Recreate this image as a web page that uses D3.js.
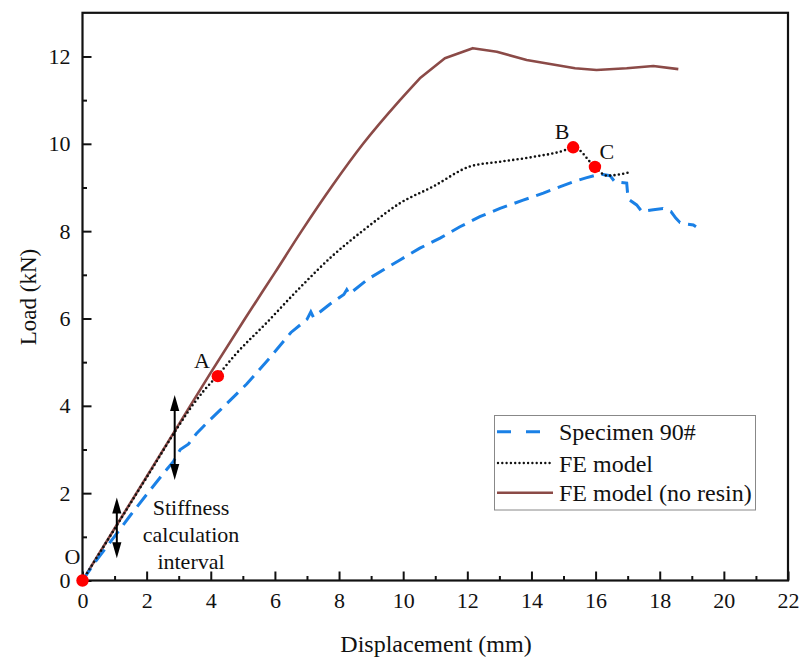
<!DOCTYPE html>
<html><head><meta charset="utf-8">
<script src="https://cdn.jsdelivr.net/npm/d3@7/dist/d3.min.js"></script>
<style>body{margin:0;background:#fff}svg{display:block}svg text{font-family:'Liberation Serif','Times New Roman',Tinos,'DejaVu Serif','Noto Serif',serif !important;fill:#111}</style>
</head><body><svg id="c" width="801" height="662"></svg>
<script>
// ---- data ----
const xTicks = [0,2,4,6,8,10,12,14,16,18,20,22];
const yTicks = [0,2,4,6,8,10,12];
const xMinor = [1,3,5,7,9,11,13,15,17,19,21];
const yMinor = [1,3,5,7,9,11];

const specimenX = [0,0.44,0.96,1.5,2.0,2.5,2.83,3.05,3.3,3.55,3.92,4.29,5.12,5.9,6.5,7.0,7.12,7.2,7.7,8.15,8.24,8.32,8.9,9.4,9.9,10.52,11.15,11.77,12.39,13.02,13.74,14.37,14.9,15.3,15.7,16.14,16.45,16.6,16.97,17.0,17.05,17.28,17.44,17.8,18.1,18.35,18.5,18.63,18.84,19.05,19.13];
const specimenY = [0,0.47,0.97,1.5,1.97,2.43,2.72,3.0,3.12,3.36,3.64,3.9,4.5,5.15,5.68,5.98,6.15,6.03,6.32,6.55,6.66,6.56,6.9,7.12,7.34,7.61,7.84,8.1,8.33,8.52,8.71,8.87,9.02,9.13,9.22,9.31,9.27,9.13,9.1,8.85,8.72,8.6,8.45,8.49,8.52,8.45,8.3,8.2,8.16,8.14,8.1];

const feX = [0,1,2,3,3.4,3.8,4.22,4.8,5.74,6.8,7.82,8.9,9.9,10.93,12.08,13.02,14.05,15.1,15.3,15.98,16.35,17.02];
const feY = [0,1.18,2.36,3.54,3.98,4.36,4.7,5.2,5.9,6.72,7.45,8.1,8.64,9.02,9.48,9.59,9.7,9.87,9.93,9.47,9.27,9.34];

const noResinX = [0,1,2,3,4,5.07,6,6.83,7.8,8.75,9.9,10.52,11.3,12.17,12.92,13.85,15.36,16.03,16.97,17.8,18.58];
const noResinY = [0,1.19,2.38,3.57,4.76,6.0,7.05,8.0,9.05,10.0,11.0,11.5,11.96,12.19,12.11,11.92,11.73,11.69,11.73,11.78,11.71];

const pointNames = ["O","A","B","C"];
const pointX = [0,4.22,15.3,15.98];
const pointY = [0,4.68,9.92,9.47];

const arrowX = [1.07,2.875];
const arrowTop = [1.9,4.25];
const arrowBottom = [0.51,2.3];

const legendLabels = ["Specimen 90#","FE model","FE model (no resin)"];
const noteLines = ["Stiffness","calculation","interval"];

// ---- chart ----
const FONT = "'Liberation Serif','Times New Roman',Tinos,'DejaVu Serif','Noto Serif',serif";
const svg = d3.select("#c").attr("font-family",FONT);
const x = d3.scaleLinear().domain([0,22]).range([82.5,788]);
const y = d3.scaleLinear().domain([0,13]).range([580.5,12.8]);

const g = svg.append("g");
// minor ticks
g.append("g").attr("transform",`translate(0,${y(0)})`)
 .call(d3.axisBottom(x).tickValues(xMinor).tickSize(-4.5).tickFormat(""))
 .call(s=>{s.select(".domain").remove();s.selectAll("line").attr("stroke","#111").attr("stroke-width",2);});
g.append("g").attr("transform",`translate(${x(0)},0)`)
 .call(d3.axisLeft(y).tickValues(yMinor).tickSize(-4.5).tickFormat(""))
 .call(s=>{s.select(".domain").remove();s.selectAll("line").attr("stroke","#111").attr("stroke-width",2);});
// major
g.append("g").attr("transform",`translate(0,${y(0)})`)
 .call(d3.axisBottom(x).tickValues(xTicks).tickSize(-9).tickPadding(12).tickFormat(d3.format("d")))
 .call(s=>{s.attr("font-family",FONT);s.select(".domain").remove();s.selectAll("line").attr("stroke","#111").attr("stroke-width",2);
   s.selectAll("text").attr("font-size",22).attr("fill","#111");});
g.append("g").attr("transform",`translate(${x(0)},0)`)
 .call(d3.axisLeft(y).tickValues(yTicks).tickSize(-9).tickPadding(12).tickFormat(d3.format("d")))
 .call(s=>{s.attr("font-family",FONT);s.select(".domain").remove();s.selectAll("line").attr("stroke","#111").attr("stroke-width",2);
   s.selectAll("text").attr("font-size",22).attr("fill","#111");});
// frame
g.append("rect").attr("x",x(0)).attr("y",y(13)).attr("width",x(22)-x(0)).attr("height",y(0)-y(13))
 .attr("fill","none").attr("stroke","#111").attr("stroke-width",2.2);

// axis titles
svg.append("text").attr("x",436).attr("y",652).attr("text-anchor","middle").attr("font-size",24).text("Displacement (mm)");
svg.append("text").attr("transform","translate(36,297) rotate(-90)").attr("text-anchor","middle").attr("font-size",23).text("Load (kN)");

const zip = (a,b)=>a.map((v,i)=>[v,b[i]]);
const smooth = d3.line().x(d=>x(d[0])).y(d=>y(d[1])).curve(d3.curveMonotoneX);
const straight = d3.line().x(d=>x(d[0])).y(d=>y(d[1]));
const BROWN="#8b4a47", BLUE="#1a80e6";

// brown: smooth rise, straight segments around the peak
const brownPts = zip(noResinX,noResinY);
const split = noResinX.indexOf(10.52);
g.append("path").attr("d", smooth(brownPts.slice(0,split+1)) + straight(brownPts.slice(split)).replace(/^M/,"L"))
 .attr("fill","none").attr("stroke",BROWN).attr("stroke-width",2.6).attr("stroke-linejoin","round");
g.append("path").datum(zip(specimenX,specimenY)).attr("d",straight).attr("fill","none")
 .attr("stroke",BLUE).attr("stroke-width",3).attr("stroke-dasharray","15,8");
g.append("path").datum(zip(feX,feY)).attr("d",smooth).attr("fill","none")
 .attr("stroke","#111").attr("stroke-width",2.6).attr("stroke-dasharray","0,4.4").attr("stroke-linecap","round");

// arrows
function arrowHead(px,py,dir){ // dir -1 up, +1 down
  const L=16,W=4.6;
  return `M${px},${py}L${px-W},${py-dir*L}L${px+W},${py-dir*L}Z`;
}
arrowX.forEach((ax,i)=>{
  const px=x(ax), t=y(arrowTop[i]), b=y(arrowBottom[i]);
  g.append("line").attr("x1",px).attr("x2",px).attr("y1",t+8).attr("y2",b-8).attr("stroke","#000").attr("stroke-width",2);
  g.append("path").attr("d",arrowHead(px,t,-1)).attr("fill","#000");
  g.append("path").attr("d",arrowHead(px,b,1)).attr("fill","#000");
});

// note text
noteLines.forEach((t,i)=>{
  svg.append("text").attr("x",191).attr("y",515+i*27).attr("text-anchor","middle").attr("font-size",22).text(t);
});

// red points
g.selectAll("circle.pt").data(pointX).join("circle").attr("class","pt")
 .attr("cx",d=>x(d)).attr("cy",(d,i)=>y(pointY[i])).attr("r",6.2).attr("fill","#ff0000");
const labelOff = [[-10,-17],[-16,-8],[-11,-8],[12,-8]];
pointNames.forEach((n,i)=>{
  svg.append("text").attr("x",x(pointX[i])+labelOff[i][0]).attr("y",y(pointY[i])+labelOff[i][1])
   .attr("text-anchor","middle").attr("font-size",22).text(n);
});

// legend
const lg = svg.append("g");
lg.append("rect").attr("x",494.5).attr("y",415.5).attr("width",261).attr("height",94.5)
  .attr("fill","#fff").attr("stroke","#888").attr("stroke-width",1);
const legY=[431.7,463,492.7];
lg.append("line").attr("x1",497).attr("x2",541).attr("y1",legY[0]).attr("y2",legY[0])
  .attr("stroke",BLUE).attr("stroke-width",3).attr("stroke-dasharray","14,15");
lg.append("line").attr("x1",498).attr("x2",550).attr("y1",legY[1]).attr("y2",legY[1])
  .attr("stroke","#111").attr("stroke-width",2.4).attr("stroke-dasharray","0,4.3").attr("stroke-linecap","round");
lg.append("line").attr("x1",497).attr("x2",553).attr("y1",legY[2]).attr("y2",legY[2])
  .attr("stroke",BROWN).attr("stroke-width",2.6);
legendLabels.forEach((t,i)=>{
  lg.append("text").attr("x",559).attr("y",legY[i]+8.5).attr("font-size",24).text(t);
});
</script></body></html>
